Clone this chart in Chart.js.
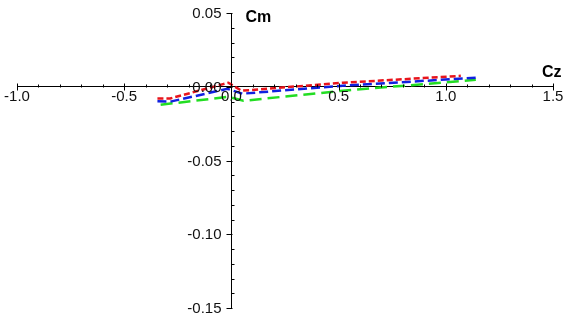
<!DOCTYPE html>
<html>
<head>
<meta charset="utf-8">
<script src="https://cdn.jsdelivr.net/npm/chart.js@4.4.1/dist/chart.umd.min.js"></script>
<style>
  html, body { margin: 0; padding: 0; background: #fff; }
  #contenedor { width: 573px; height: 323px; }
</style>
</head>
<body>
<div id="contenedor"><canvas id="chartCm"></canvas></div>
<script>
/* valores Cz / Cm de cada curva */
const czRojo = [-0.345, -0.285, -0.014, 0.047, 0.52, 1.07];
const cmRojo = [-0.0079, -0.0079, 0.0027, -0.0027, 0.0027, 0.0074];

const czAzul = [-0.345, -0.285, -0.019, 0.051, 0.52, 1.14];
const cmAzul = [-0.0099, -0.0101, -0.0014, -0.0047, 0.0007, 0.0061];

const czVerde = [-0.33, -0.014, 0.056, 0.52, 1.14];
const cmVerde = [-0.0122, -0.0068, -0.0095, -0.0027, 0.0047];

/* ticks de los ejes */
const ticksCz = [-1.0, -0.5, 0.0, 0.5, 1.0, 1.5];
const ticksCm = [0.05, 0.00, -0.05, -0.10, -0.15];

const puntos = (xs, ys) => xs.map((v, i) => ({ x: v, y: ys[i] }));

/* ejes cruzados en el origen, con marcas menores y etiquetas */
const ejesCentrados = {
  id: "ejesCentrados",
  afterDatasetsDraw(chart) {
    const { ctx, scales } = chart;
    const sx = scales.x;
    const sy = scales.y;
    const x0 = Math.round(sx.getPixelForValue(0)) + 0.5;
    const y0 = Math.round(sy.getPixelForValue(0)) + 0.5;

    ctx.save();
    ctx.strokeStyle = "#000";
    ctx.lineWidth = 1;
    ctx.beginPath();
    // eje Cz
    for (let i = -10; i <= 15; i++) {
      const px = Math.round(sx.getPixelForValue(i / 10)) + 0.5;
      if (i % 5 === 0) {
        ctx.moveTo(px, y0 - 4);
        ctx.lineTo(px, y0 + 3);
      } else {
        ctx.moveTo(px, y0 - 3);
        ctx.lineTo(px, y0);
      }
    }
    // eje Cm
    for (let j = -15; j <= 5; j++) {
      const py = Math.round(sy.getPixelForValue(j / 100)) + 0.5;
      if (j % 5 === 0) {
        ctx.moveTo(x0 - 5, py);
        ctx.lineTo(x0 + 1, py);
      } else {
        ctx.moveTo(x0, py);
        ctx.lineTo(x0 + 3, py);
      }
    }
    ctx.stroke();

    ctx.fillStyle = "#111";
    ctx.font = "15px 'Liberation Sans', Arial, sans-serif";
    ctx.textBaseline = "alphabetic";
    ctx.textAlign = "center";
    ticksCz.forEach((v) => {
      ctx.fillText(v.toFixed(1), sx.getPixelForValue(v), y0 + 13);
    });
    ctx.textAlign = "right";
    ticksCm.forEach((v) => {
      ctx.fillText(v.toFixed(2), x0 - 10, sy.getPixelForValue(v) + 5);
    });

    ctx.fillStyle = "#000";
    ctx.font = "bold 16px 'Liberation Sans', Arial, sans-serif";
    ctx.textAlign = "left";
    ctx.fillText("Cm", x0 + 14, 22);
    ctx.fillText("Cz", 542, y0 - 11);
    ctx.restore();
  },
};

const chartCm = new Chart(document.getElementById("chartCm").getContext("2d"), {
  type: "scatter",
  data: {
    datasets: [
      {
        data: puntos(czRojo, cmRojo),
        showLine: true,
        borderColor: "#e8141c",
        borderWidth: 2.5,
        borderDash: [6, 3],
        pointRadius: 0,
      },
      {
        data: puntos(czAzul, cmAzul),
        showLine: true,
        borderColor: "#1020e0",
        borderWidth: 2.5,
        borderDash: [9, 4],
        pointRadius: 0,
      },
      {
        data: puntos(czVerde, cmVerde),
        showLine: true,
        borderColor: "#22dd22",
        borderWidth: 2.5,
        borderDash: [12, 6],
        pointRadius: 0,
      },
    ],
  },
  options: {
    responsive: true,
    maintainAspectRatio: false,
    animation: false,
    layout: { padding: { left: 17, right: 20, top: 13, bottom: 15 } },
    plugins: { legend: { display: false }, tooltip: { enabled: false } },
    scales: {
      x: {
        type: "linear",
        min: -1,
        max: 1.5,
        position: { y: 0 },
        ticks: { display: false, stepSize: 0.5 },
        grid: { display: false },
        border: { display: true, color: "#000", width: 1 },
      },
      y: {
        type: "linear",
        min: -0.15,
        max: 0.05,
        position: { x: 0 },
        ticks: { display: false, stepSize: 0.05 },
        grid: { display: false },
        border: { display: true, color: "#000", width: 1 },
      },
    },
  },
  plugins: [ejesCentrados],
});
</script>
</body>
</html>
